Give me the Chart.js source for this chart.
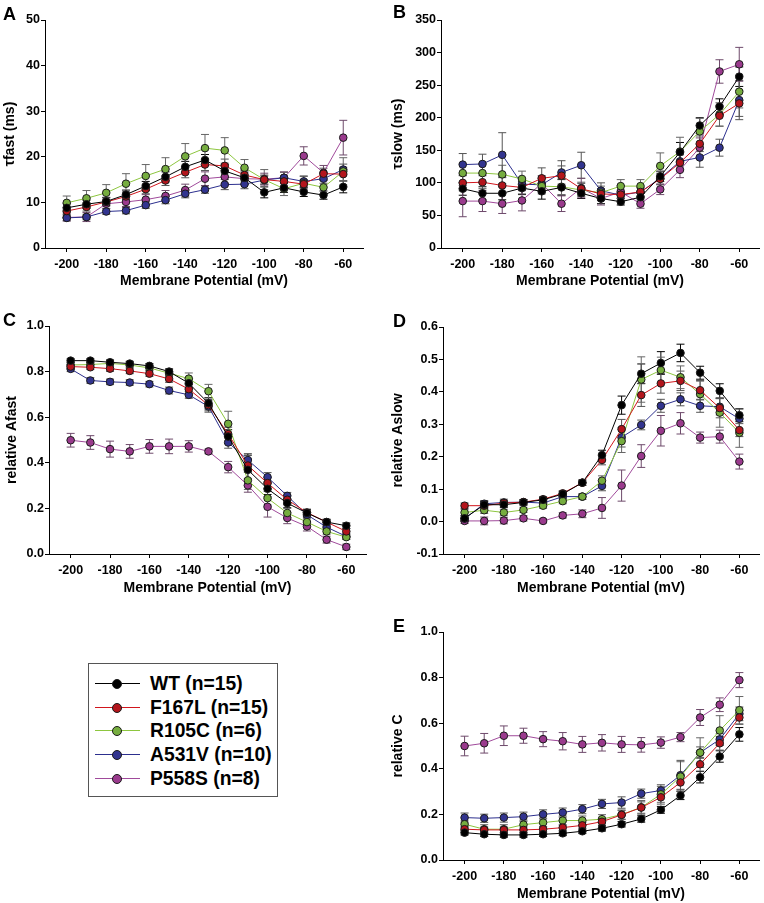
<!DOCTYPE html>
<html>
<head>
<meta charset="utf-8">
<script src="https://cdn.jsdelivr.net/npm/chart.js@4.4.1/dist/chart.umd.min.js"></script>
<style>
  body { margin: 0; background: #fff; font-family: "Liberation Sans", Arial, Helvetica, sans-serif; }
  #wrap { position: relative; width: 764px; height: 903px; overflow: hidden; }
  canvas { position: absolute; }
  .letter { position: absolute; font-weight: bold; font-size: 18px; line-height: 18px; color: #000; }
  #legend { position: absolute; left: 88px; top: 663px; width: 188px; height: 132px; border: 1px solid #555; background: #fff; }
  .row { position: absolute; left: 0; height: 20px; width: 188px; }
  .row .ln { position: absolute; left: 6px; top: 9px; width: 45px; height: 1px; }
  .row .mk { position: absolute; left: 23px; top: 5px; width: 8px; height: 8px; border-radius: 50%; border: 1px solid #1a1a1a; }
  .row .tx { position: absolute; left: 61px; top: 0; font-weight: bold; font-size: 19.3px; line-height: 20px; color: #000; white-space: nowrap; }
</style>
</head>
<body>
<div id="wrap">
  <canvas id="cA" width="380" height="290" style="left:0;top:0"></canvas>
  <canvas id="cB" width="384" height="290" style="left:380px;top:0"></canvas>
  <canvas id="cC" width="380" height="307" style="left:0;top:290px"></canvas>
  <canvas id="cD" width="384" height="307" style="left:380px;top:290px"></canvas>
  <canvas id="cE" width="384" height="303" style="left:380px;top:600px"></canvas>
  <div class="letter" style="left:3px;top:5px">A</div>
  <div class="letter" style="left:393px;top:3px">B</div>
  <div class="letter" style="left:3px;top:311px">C</div>
  <div class="letter" style="left:393px;top:312px">D</div>
  <div class="letter" style="left:393px;top:617px">E</div>
  <div id="legend"></div>
</div>
<script>
// membrane potential steps (mV)
const voltages = [-200, -190, -180, -170, -160, -150, -140, -130, -120, -110, -100, -90, -80, -70, -60];
const xTicks = [-200, -180, -160, -140, -120, -100, -80, -60];
const groups = ['WT (n=15)', 'F167L (n=15)', 'R105C (n=6)', 'A531V (n=10)', 'P558S (n=8)'];

// A: tau fast (ms), rows in the order of groups
const tauFastMean = [
  [8.8, 9.6, 10.2, 11.7, 13.6, 15.6, 17.8, 19.3, 16.9, 15.4, 12.2, 13.2, 12.3, 11.6, 13.4],
  [8.1, 9.0, 10.1, 11.3, 12.9, 14.8, 16.6, 18.3, 18.0, 16.0, 15.0, 14.6, 14.0, 16.3, 16.2],
  [9.9, 10.9, 12.1, 14.1, 15.8, 17.3, 20.1, 21.9, 21.4, 17.6, 15.0, 13.0, 14.2, 13.3, 16.8],
  [6.6, 6.8, 8.0, 8.2, 9.4, 10.5, 11.9, 12.8, 13.9, 14.0, 14.9, 15.4, 14.6, 15.2, 17.2],
  [6.7, 6.8, 9.7, 10.1, 10.6, 11.4, 12.7, 15.2, 15.6, 15.2, 15.1, 15.4, 20.2, 16.5, 24.2]
];
const tauFastSem = [
  [0.9, 0.9, 0.9, 1.0, 1.0, 1.1, 1.2, 1.2, 1.4, 1.5, 1.2, 1.0, 1.0, 0.9, 1.3],
  [0.8, 0.9, 0.9, 1.0, 1.0, 1.1, 1.2, 1.3, 1.5, 1.3, 1.0, 1.0, 1.0, 1.2, 1.5],
  [1.5, 1.7, 1.8, 2.2, 2.5, 2.5, 2.8, 3.0, 2.8, 1.8, 2.2, 1.5, 1.5, 1.5, 3.0],
  [0.6, 0.6, 0.6, 0.7, 0.7, 0.8, 0.9, 0.8, 1.1, 1.0, 0.9, 1.2, 1.2, 1.0, 1.2],
  [0.8, 1.0, 1.0, 1.0, 1.1, 1.2, 1.3, 1.5, 1.4, 1.3, 1.3, 1.3, 2.0, 1.6, 3.8]
];

// B: tau slow (ms)
const tauSlowMean = [
  [91, 84, 84, 92, 87, 93, 84, 76, 71, 78, 110, 147, 188, 217, 263],
  [100, 101, 96, 93, 107, 111, 91, 83, 82, 86, 106, 131, 160, 203, 222],
  [115, 115, 113, 106, 95, 94, 89, 85, 95, 95, 126, 148, 179, 205, 240],
  [128, 129, 143, 98, 97, 116, 127, 88, 81, 86, 107, 133, 139, 154, 227],
  [72, 72, 68, 73, 99, 68, 92, 76, 86, 68, 90, 120, 154, 271, 282]
];
const tauSlowSem = [
  [10, 10, 10, 10, 12, 12, 8, 8, 5, 6, 8, 15, 12, 12, 15],
  [12, 10, 12, 10, 16, 15, 10, 8, 5, 6, 8, 12, 12, 16, 20],
  [15, 15, 14, 12, 12, 12, 10, 10, 10, 10, 20, 22, 20, 18, 25],
  [17, 15, 34, 10, 12, 18, 20, 12, 8, 7, 10, 12, 15, 13, 30],
  [24, 16, 15, 16, 12, 12, 15, 10, 10, 7, 8, 12, 15, 18, 26]
];

// C: relative A fast
const aFastMean = [
  [0.848, 0.848, 0.841, 0.835, 0.825, 0.800, 0.749, 0.661, 0.515, 0.369, 0.286, 0.223, 0.180, 0.140, 0.124],
  [0.822, 0.819, 0.813, 0.803, 0.791, 0.768, 0.723, 0.653, 0.526, 0.388, 0.311, 0.238, 0.182, 0.140, 0.099],
  [0.829, 0.831, 0.836, 0.829, 0.816, 0.793, 0.769, 0.714, 0.571, 0.323, 0.245, 0.180, 0.140, 0.099, 0.074],
  [0.812, 0.761, 0.755, 0.752, 0.745, 0.717, 0.698, 0.647, 0.489, 0.412, 0.337, 0.255, 0.172, 0.118, 0.077],
  [0.499, 0.489, 0.460, 0.450, 0.472, 0.472, 0.472, 0.450, 0.381, 0.301, 0.207, 0.158, 0.121, 0.063, 0.031]
];
const aFastSem = [
  [0.008, 0.008, 0.010, 0.010, 0.010, 0.012, 0.020, 0.025, 0.030, 0.070, 0.025, 0.020, 0.015, 0.012, 0.012],
  [0.010, 0.010, 0.012, 0.012, 0.012, 0.015, 0.020, 0.025, 0.030, 0.030, 0.025, 0.020, 0.015, 0.012, 0.012],
  [0.010, 0.010, 0.012, 0.012, 0.012, 0.015, 0.025, 0.030, 0.055, 0.040, 0.030, 0.020, 0.015, 0.012, 0.010],
  [0.012, 0.012, 0.012, 0.012, 0.012, 0.015, 0.015, 0.025, 0.025, 0.020, 0.020, 0.015, 0.012, 0.012, 0.012],
  [0.030, 0.030, 0.035, 0.030, 0.030, 0.032, 0.025, 0.010, 0.025, 0.030, 0.045, 0.025, 0.020, 0.015, 0.012]
];

// D: relative A slow
const aSlowMean = [
  [0.010, 0.052, 0.052, 0.059, 0.067, 0.085, 0.120, 0.205, 0.359, 0.456, 0.489, 0.520, 0.459, 0.403, 0.328],
  [0.049, 0.049, 0.057, 0.060, 0.069, 0.087, 0.120, 0.190, 0.285, 0.390, 0.426, 0.434, 0.405, 0.350, 0.282],
  [0.028, 0.035, 0.028, 0.036, 0.049, 0.063, 0.077, 0.126, 0.248, 0.438, 0.467, 0.445, 0.393, 0.336, 0.274],
  [0.009, 0.055, 0.059, 0.060, 0.057, 0.077, 0.077, 0.110, 0.260, 0.298, 0.357, 0.377, 0.357, 0.354, 0.317],
  [0.002, 0.002, 0.003, 0.010, 0.002, 0.019, 0.024, 0.042, 0.111, 0.202, 0.280, 0.303, 0.259, 0.262, 0.185]
];
const aSlowSem = [
  [0.008, 0.010, 0.008, 0.008, 0.008, 0.008, 0.008, 0.015, 0.028, 0.030, 0.035, 0.027, 0.020, 0.022, 0.020],
  [0.008, 0.008, 0.008, 0.008, 0.008, 0.008, 0.008, 0.015, 0.030, 0.035, 0.030, 0.030, 0.030, 0.030, 0.020],
  [0.010, 0.010, 0.010, 0.008, 0.008, 0.008, 0.008, 0.015, 0.035, 0.070, 0.040, 0.035, 0.040, 0.045, 0.045],
  [0.008, 0.010, 0.010, 0.008, 0.008, 0.008, 0.008, 0.015, 0.030, 0.015, 0.020, 0.020, 0.020, 0.025, 0.030],
  [0.008, 0.012, 0.010, 0.008, 0.006, 0.008, 0.012, 0.032, 0.048, 0.035, 0.047, 0.033, 0.017, 0.020, 0.023]
];

// E: relative C
const relCMean = [
  [0.120, 0.113, 0.110, 0.110, 0.113, 0.117, 0.126, 0.139, 0.157, 0.180, 0.220, 0.283, 0.363, 0.454, 0.551],
  [0.135, 0.132, 0.132, 0.132, 0.135, 0.142, 0.152, 0.168, 0.198, 0.230, 0.275, 0.340, 0.420, 0.512, 0.625],
  [0.157, 0.135, 0.135, 0.155, 0.164, 0.173, 0.173, 0.179, 0.199, 0.231, 0.288, 0.366, 0.471, 0.568, 0.657],
  [0.186, 0.183, 0.186, 0.190, 0.200, 0.208, 0.223, 0.246, 0.252, 0.291, 0.305, 0.372, 0.471, 0.529, 0.641],
  [0.500, 0.512, 0.545, 0.545, 0.530, 0.521, 0.507, 0.514, 0.507, 0.505, 0.515, 0.539, 0.625, 0.681, 0.789]
];
const relCSem = [
  [0.010, 0.010, 0.010, 0.010, 0.010, 0.010, 0.010, 0.012, 0.012, 0.014, 0.015, 0.018, 0.025, 0.025, 0.030],
  [0.012, 0.012, 0.012, 0.012, 0.012, 0.012, 0.012, 0.015, 0.020, 0.025, 0.030, 0.030, 0.030, 0.030, 0.030],
  [0.015, 0.020, 0.020, 0.020, 0.020, 0.020, 0.020, 0.020, 0.020, 0.030, 0.035, 0.065, 0.065, 0.065, 0.060],
  [0.020, 0.018, 0.020, 0.020, 0.020, 0.020, 0.020, 0.020, 0.025, 0.020, 0.025, 0.065, 0.025, 0.025, 0.030],
  [0.043, 0.043, 0.043, 0.033, 0.033, 0.038, 0.035, 0.036, 0.035, 0.032, 0.025, 0.020, 0.035, 0.030, 0.033]
];

const lineColors = ['#000000', '#d1161d', '#8dc63f', '#2c2f8e', '#a04a9b'];
const fillColors = ['#000000', '#b3151c', '#76ad3f', '#32348f', '#9a3a8d'];
const errColors = ['#000000', '#555555', '#666666', '#555555', '#6e4a6b'];
const FONT = '"Liberation Sans", Arial, Helvetica, sans-serif';

// draws mean +/- sem bars through the y scale
const errorBars = {
  id: 'errorBars',
  beforeDatasetsDraw(chart) {
    const ctx = chart.ctx;
    const yScale = chart.scales.y;
    chart.data.datasets.forEach((ds, i) => {
      const meta = chart.getDatasetMeta(i);
      ctx.save();
      ctx.strokeStyle = ds.errorColor;
      ctx.lineWidth = 1;
      meta.data.forEach((pt, j) => {
        const v = ds.data[j].y, e = ds.errors[j];
        const top = yScale.getPixelForValue(v + e);
        const bot = yScale.getPixelForValue(v - e);
        ctx.beginPath();
        ctx.moveTo(pt.x, top); ctx.lineTo(pt.x, bot);
        ctx.moveTo(pt.x - 4, top); ctx.lineTo(pt.x + 4, top);
        ctx.moveTo(pt.x - 4, bot); ctx.lineTo(pt.x + 4, bot);
        ctx.stroke();
      });
      ctx.restore();
    });
  }
};

function makePanel(id, means, sems, yTitle, yMin, yMax, yStep, decimals, geo) {
  const yTicks = [];
  for (let v = yMin; v <= yMax + 1e-9; v += yStep) yTicks.push(Math.round(v * 1000) / 1000);
  new Chart(document.getElementById(id), {
    type: 'line',
    data: {
      datasets: groups.map((g, i) => ({
        label: g,
        data: voltages.map((v, j) => ({ x: v, y: means[i][j] })),
        errors: sems[i],
        errorColor: errColors[i],
        borderColor: lineColors[i],
        backgroundColor: fillColors[i],
        pointBackgroundColor: fillColors[i],
        pointBorderColor: '#1a1a1a',
        pointBorderWidth: 1,
        pointRadius: 3.8,
        borderWidth: 1,
        tension: 0
      }))
    },
    options: {
      responsive: false,
      animation: false,
      devicePixelRatio: 1,
      layout: { padding: { top: geo.padTop, right: geo.padRight, left: 0, bottom: 0 } },
      plugins: { legend: { display: false }, tooltip: { enabled: false } },
      scales: {
        x: {
          type: 'linear',
          min: -211,
          max: -50,
          afterFit(s) { s.height = geo.xH; },
          afterBuildTicks(s) { s.ticks = xTicks.map(v => ({ value: v })); },
          grid: { display: true, drawOnChartArea: false, tickLength: 4, color: '#000' },
          border: { color: '#000', width: 1 },
          ticks: { color: '#000', padding: 5, maxRotation: 0, autoSkip: false,
                   font: { family: FONT, size: 12.5, weight: 'bold' }, callback: v => String(v) },
          title: { display: true, text: 'Membrane Potential (mV)', color: '#000',
                   font: { family: FONT, size: 14, weight: 'bold' }, padding: { top: 0, bottom: geo.xTitlePad } }
        },
        y: {
          min: yMin,
          max: yMax,
          afterFit(s) { s.width = geo.yW; },
          afterBuildTicks(s) { s.ticks = yTicks.map(v => ({ value: v })); },
          grid: { display: true, drawOnChartArea: false, tickLength: 4, color: '#000' },
          border: { color: '#000', width: 1 },
          ticks: { color: '#000', padding: 1, autoSkip: false,
                   font: { family: FONT, size: 12.5, weight: 'bold' }, callback: v => Number(v).toFixed(decimals) },
          title: { display: true, text: yTitle, color: '#000',
                   font: { family: FONT, size: 14, weight: 'bold' }, padding: { top: geo.yTitlePad, bottom: 0 } }
        }
      }
    },
    plugins: [errorBars]
  });
}

makePanel('cA', tauFastMean, tauFastSem, 'τfast (ms)', 0, 50, 10, 0,
  { padTop: 20, padRight: 17, xH: 42, yW: 45, xTitlePad: 0, yTitlePad: 1.6 });
makePanel('cB', tauSlowMean, tauSlowSem, 'τslow (ms)', 0, 350, 50, 0,
  { padTop: 20, padRight: 4, xH: 42, yW: 61, xTitlePad: 0, yTitlePad: 9.6 });
makePanel('cC', aFastMean, aFastSem, 'relative Afast', 0, 1, 0.2, 1,
  { padTop: 36, padRight: 14, xH: 43, yW: 49, xTitlePad: 0, yTitlePad: 3.6 });
makePanel('cD', aSlowMean, aSlowSem, 'relative Aslow', -0.1, 0.6, 0.1, 1,
  { padTop: 37, padRight: 4, xH: 43, yW: 63, xTitlePad: 0, yTitlePad: 9.6 });
makePanel('cE', relCMean, relCSem, 'relative C', 0, 1, 0.2, 1,
  { padTop: 32, padRight: 4, xH: 43, yW: 63, xTitlePad: 0.5, yTitlePad: 9.6 });

// legend
const legend = document.getElementById('legend');
groups.forEach((g, i) => {
  const row = document.createElement('div');
  row.className = 'row';
  row.style.top = (10 + i * 23.7) + 'px';
  row.innerHTML = '<div class="ln" style="background:' + lineColors[i] + '"></div>' +
    '<div class="mk" style="background:' + fillColors[i] + '"></div>' +
    '<div class="tx">' + g + '</div>';
  legend.appendChild(row);
});
</script>
</body>
</html>
